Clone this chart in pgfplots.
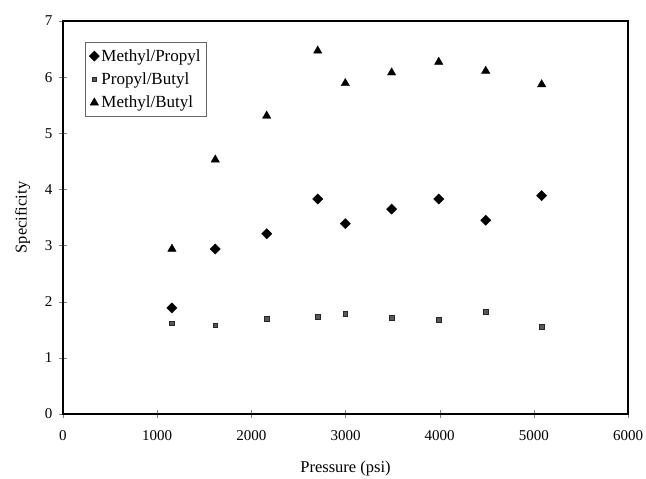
\documentclass[border=0pt]{standalone}
\usepackage{pgfplots}
\pgfplotsset{compat=1.18}
\usepackage{fontspec}
\setmainfont{Liberation Serif}
\begin{document}
\begin{tikzpicture}
\begin{axis}[
  name=ax,
  scale only axis,
  width=565pt, height=393pt,
  xmin=0, xmax=6000, ymin=0, ymax=7,
  xtick={0,1000,...,6000}, ytick={0,1,...,7},
  /pgf/number format/assume math mode=true,
  /pgf/number format/1000 sep={},
  tick label style={font=\fontsize{15}{17}\selectfont},
  xticklabel style={yshift=-9pt},
  yticklabel style={xshift=-3pt},
  tick align=center, major tick length=8pt,
  xtick pos=bottom, ytick pos=left,
  axis line style={line width=1.1pt},
  xlabel={Pressure (psi)}, ylabel={Specificity},
  label style={font=\fontsize{16.5}{19}\selectfont},
  xlabel style={yshift=-14pt},
  ylabel style={yshift=8pt},
  legend style={at={(0.039,0.946)}, anchor=north west, draw=black!60,
    font=\fontsize{17}{20}\selectfont, row sep=6pt, inner xsep=4pt, inner ysep=5pt},
  legend cell align=left,
]
\addplot[only marks, mark=square*, mark options={rotate=45}, mark size=3.6pt, black] coordinates {
(1157,1.89) (1617,2.94) (2163,3.21) (2705,3.83) (2998,3.39) (3490,3.65) (3990,3.83) (4489,3.45) (5083,3.89)};
\addlegendentry{Methyl/Propyl}
\addplot[only marks, mark=square*, mark size=2.3pt, draw=black!85, fill=black!65] coordinates {
(1157,1.62) (1617,1.58) (2163,1.70) (2705,1.73) (2998,1.79) (3490,1.71) (3990,1.68) (4489,1.82) (5083,1.56)};
\addlegendentry{Propyl/Butyl}
\addplot[only marks, mark=triangle*, mark size=4.8pt, black] coordinates {
(1157,2.94) (1617,4.53) (2163,5.31) (2705,6.47) (2998,5.89) (3490,6.08) (3990,6.27) (4489,6.11) (5083,5.87)};
\addlegendentry{Methyl/Butyl}
\end{axis}
\pgfresetboundingbox
\path ([xshift=-63pt,yshift=-64.5pt]ax.south west) rectangle ([xshift=18pt,yshift=21pt]ax.north east);
\end{tikzpicture}
\end{document}
